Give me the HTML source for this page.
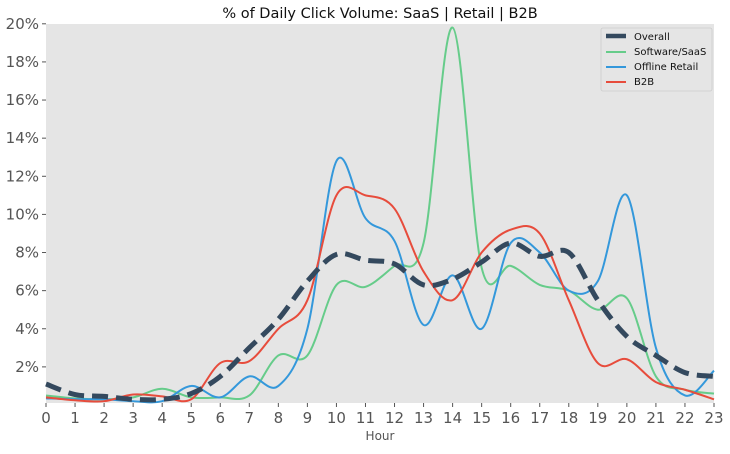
<!DOCTYPE html>
<html><head><meta charset="utf-8"><style>
body{margin:0;background:#fff;font-family:"Liberation Sans","DejaVu Sans",sans-serif}
svg text{font-family:"DejaVu Sans","Liberation Sans",sans-serif}
</style></head><body>
<svg id="chart" width="730" height="449" viewBox="0 0 730 449">
<rect x="46" y="24" width="668" height="379" fill="#e5e5e5"/>
<text x="380" y="18" text-anchor="middle" font-size="14.5" fill="#111">% of Daily Click Volume: SaaS | Retail | B2B</text>
<g id="yticks"></g><g id="xticks"></g><g id="lines"></g>
<text x="380" y="440" text-anchor="middle" font-size="12" fill="#555">Hour</text>
<g>
<rect x="601" y="28" width="111" height="63" fill="#e5e5e5" stroke="#ccc" stroke-width="0.8" rx="2"/>
<g><line x1="606" y1="36" x2="626" y2="36" stroke="#34495e" stroke-width="4.5"/><text x="634" y="40" font-size="10" fill="#111">Overall</text></g>
<g><line x1="606" y1="52" x2="626" y2="52" stroke="#66cc8a" stroke-width="2"/><text x="634" y="55" font-size="10" fill="#111">Software/SaaS</text></g>
<g><line x1="606" y1="67" x2="626" y2="67" stroke="#3498db" stroke-width="2"/><text x="634" y="70" font-size="10" fill="#111">Offline Retail</text></g>
<g><line x1="606" y1="82" x2="626" y2="82" stroke="#e74c3c" stroke-width="2"/><text x="634" y="85" font-size="10" fill="#111">B2B</text></g>
</g>
</svg>
<script>
const hours=[0,1,2,3,4,5,6,7,8,9,10,11,12,13,14,15,16,17,18,19,20,21,22,23];
const yTicks=[2,4,6,8,10,12,14,16,18,20];
const overall=[1.1,0.55,0.45,0.3,0.3,0.6,1.5,3.0,4.5,6.5,7.9,7.6,7.4,6.3,6.6,7.5,8.5,7.8,8.0,5.5,3.6,2.6,1.7,1.5];
const saas=[0.5,0.35,0.3,0.4,0.85,0.4,0.4,0.5,2.6,2.6,6.3,6.2,7.3,8.5,19.8,7.2,7.3,6.3,6.0,5.0,5.6,1.5,0.8,0.6];
const retail=[0.35,0.3,0.3,0.2,0.2,1.0,0.4,1.5,1.0,4.0,12.8,9.8,8.6,4.2,6.8,4.0,8.5,8.0,6.0,6.5,11.0,3.0,0.5,1.8];
const b2b=[0.4,0.25,0.2,0.55,0.45,0.3,2.2,2.3,4.0,5.5,11.0,11.0,10.3,7.0,5.5,8.0,9.2,9.0,5.5,2.2,2.4,1.2,0.8,0.3];
const NS="http://www.w3.org/2000/svg";
const X=h=>46+h*(668/23);
const Y=v=>405-v*19.06;
function mk(t,a,p){const e=document.createElementNS(NS,t);for(const k in a)e.setAttribute(k,a[k]);p.appendChild(e);return e;}
const yg=document.getElementById('yticks');
yTicks.forEach(v=>{
 const l=mk('line',{x1:42,x2:46,y1:Y(v),y2:Y(v),stroke:'#555'},yg);
 
 
 const t=mk('text',{x:39,y:Y(v)+5,'text-anchor':'end','font-size':15,fill:'#555'},yg);
 t.textContent=v+'%';
 
 
});
const xg=document.getElementById('xticks');
hours.forEach(h=>{
 const l=mk('line',{x1:X(h),x2:X(h),y1:403,y2:407,stroke:'#555'},xg);
 
 
 const t=mk('text',{x:X(h),y:423,'text-anchor':'middle','font-size':15,fill:'#555'},xg);
 t.textContent=h;
 
 
});
function path(vals){
 const p=vals.map((v,i)=>[X(hours[i]),Y(v)]);
 let d='M'+p[0][0]+','+p[0][1];
 for(let i=0;i<p.length-1;i++){
  const p0=p[i-1]||p[i],p1=p[i],p2=p[i+1],p3=p[i+2]||p[i+1];
  const c1=[p1[0]+(p2[0]-p0[0])/6,p1[1]+(p2[1]-p0[1])/6];
  const c2=[p2[0]-(p3[0]-p1[0])/6,p2[1]-(p3[1]-p1[1])/6];
  d+=' C'+c1+' '+c2+' '+p2;
 }
 return d;
}
const lg=document.getElementById('lines');
const series=[[saas,'#66cc8a',2,null,'line-saas'],[retail,'#3498db',2,null,'line-retail'],[b2b,'#e74c3c',2,null,'line-b2b'],[overall,'#34495e',5,'16,8','line-overall']];
series.forEach(s=>{
 const a={d:path(s[0]),fill:'none',stroke:s[1],'stroke-width':s[2]};
 if(s[3])a['stroke-dasharray']=s[3];
 const e=mk('path',a,lg);
 
 
});
</script>
</body></html>
